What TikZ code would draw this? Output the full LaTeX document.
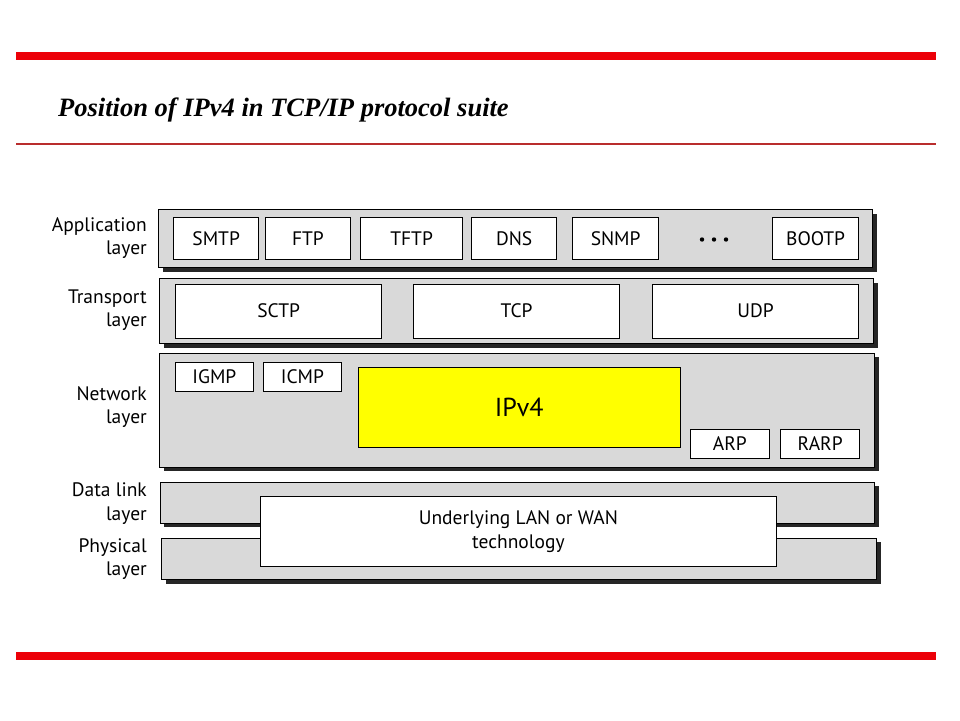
\documentclass[tikz,border=0pt]{standalone}
\usepackage{fontspec}
\setmainfont{PT Sans}
\newfontfamily\titlefont{Liberation Serif}
\usetikzlibrary{shadows}

\definecolor{redbar}{RGB}{236,0,8}
\definecolor{redline}{RGB}{185,45,45}
\definecolor{layergray}{RGB}{217,217,217}
\definecolor{shadowgray}{RGB}{38,38,38}
\definecolor{ipyellow}{RGB}{255,255,0}

\begin{document}
\begin{tikzpicture}[x=1pt,y=-1pt,
  layerbox/.style={draw=black, line width=1.3pt, fill=layergray, inner sep=0pt, anchor=north west,
    drop shadow={shadow xshift=4pt, shadow yshift=-4pt, fill=shadowgray, opacity=1}},
  protobox/.style={draw=black, line width=1.3pt, fill=white, inner sep=0pt, anchor=north west,
    font=\fontsize{19.5}{24}\selectfont},
  layerlabel/.style={anchor=east, align=right, font=\fontsize{19.5}{23.5}\selectfont, inner sep=0pt},
  dotmark/.style={circle, fill=black, inner sep=0pt, minimum size=4.4pt},
]
\useasboundingbox (0,0) rectangle (960,720);
\fill[white] (0,0) rectangle (960,720);

% header lines
\coordinate (t1) at (16,56); \coordinate (t2) at (936,56);
\coordinate (m1) at (16,143.5); \coordinate (m2) at (936,143.5);
\coordinate (b1) at (16,656); \coordinate (b2) at (936,656);
\draw[redbar, line width=7.5pt] (t1) -- (t2);
\draw[redline, line width=2pt] (m1) -- (m2);
\draw[redbar, line width=8pt] (b1) -- (b2);

\node[anchor=base west, inner sep=0pt, font=\titlefont\bfseries\itshape\fontsize{26.5}{30}\selectfont] (title) at (58,116)
  {Position of IPv4 in TCP/IP protocol suite};

% Application layer
\node[layerbox, minimum width=714pt, minimum height=58pt] (app) at (158,209) {};
\node[protobox, minimum width=85pt, minimum height=42pt] (smtp) at (173,217) {SMTP};
\node[protobox, minimum width=84.5pt, minimum height=42pt] (ftp) at (265,217) {FTP};
\node[protobox, minimum width=102pt, minimum height=42pt] (tftp) at (360,217) {TFTP};
\node[protobox, minimum width=85pt, minimum height=42pt] (dns) at (471,217) {DNS};
\node[protobox, minimum width=86pt, minimum height=42pt] (snmp) at (572,217) {SNMP};
\node[dotmark] (d1) at (702,239.5) {};
\node[dotmark] (d2) at (714,239.5) {};
\node[dotmark] (d3) at (726,239.5) {};
\node[protobox, minimum width=86pt, minimum height=42pt] (bootp) at (772,217) {BOOTP};

% Transport layer
\node[layerbox, minimum width=714pt, minimum height=65pt] (trans) at (159,278) {};
\node[protobox, minimum width=206pt, minimum height=54pt] (sctp) at (175,283.5) {SCTP};
\node[protobox, minimum width=206pt, minimum height=54pt] (tcp) at (413,283.5) {TCP};
\node[protobox, minimum width=206pt, minimum height=54pt] (udp) at (652,283.5) {UDP};

% Network layer
\node[layerbox, minimum width=715pt, minimum height=114pt] (net) at (159,352.5) {};
\node[protobox, minimum width=78.5pt, minimum height=29pt] (igmp) at (174.5,362) {IGMP};
\node[protobox, minimum width=78.5pt, minimum height=29pt] (icmp) at (262.5,362) {ICMP};
\node[protobox, fill=ipyellow, minimum width=322pt, minimum height=79.5pt,
      font=\fontsize{26}{30}\selectfont] (ipv4) at (357.5,367) {IPv4};
\node[protobox, minimum width=79.5pt, minimum height=29.5pt] (arp) at (689.5,428.5) {ARP};
\node[protobox, minimum width=79pt, minimum height=29.5pt] (rarp) at (780,428.5) {RARP};

% Data link and physical layers
\node[layerbox, minimum width=714.5pt, minimum height=41pt] (dlink) at (159.5,481.5) {};
\node[layerbox, minimum width=715pt, minimum height=41.5pt] (phys) at (161,537.5) {};
\node[protobox, align=center, minimum width=515.5pt, minimum height=70pt] (lan) at (260,495.5)
  {Underlying LAN or WAN\\technology};

% layer labels
\node[layerlabel] (lapp) at (147,238) {Application\\layer};
\node[layerlabel] (ltrans) at (147,310) {Transport\\layer};
\node[layerlabel] (lnet) at (147,407) {Network\\layer};
\node[layerlabel] (ldlink) at (147,503.5) {Data link\\layer};
\node[layerlabel] (lphys) at (147,559) {Physical\\layer};
\end{tikzpicture}
\end{document}
